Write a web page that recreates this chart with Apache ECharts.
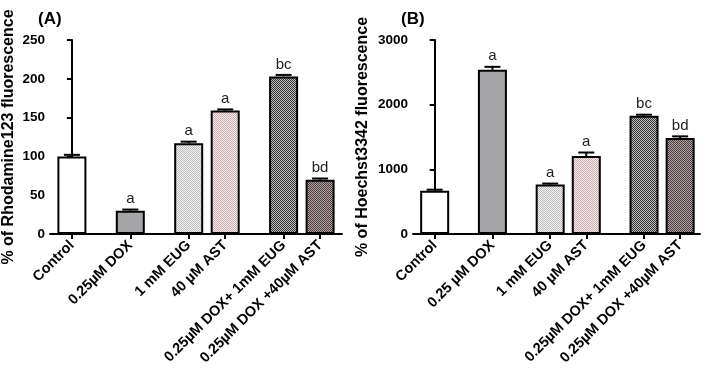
<!DOCTYPE html>
<html>
<head>
<meta charset="utf-8">
<script src="https://cdn.jsdelivr.net/npm/echarts@6/dist/echarts.min.js"></script>
<style>
	html, body { margin: 0; padding: 0; background: #fff; }
	#chart { width: 709px; height: 369px; }
</style>
</head>
<body>
<div id="chart"></div>
<script>
	// treatments, in plotting order
	var labelsA = ['Control', '0.25µM DOX', '1 mM EUG', '40 µM AST', '0.25µM DOX+ 1mM EUG', '0.25µM DOX +40µM AST'];
	var labelsB = ['Control', '0.25 µM DOX', '1 mM EUG', '40 µM AST', '0.25µM DOX+ 1mM EUG', '0.25µM DOX +40µM AST'];
	// how many bars sit side by side in each group
	var groupSizes = [1, 1, 2, 2];

	// (A) Rhodamine123
	var rhodamine = [100, 30, 117, 159, 203, 70];
	var rhodamineErr = [2, 1.5, 2, 1.5, 2, 1.5];
	var rhodamineSig = ['', 'a', 'a', 'a', 'bc', 'bd'];

	// (B) Hoechst3342
	var hoechst = [670, 2540, 765, 1205, 1830, 1485];
	var hoechstErr = [15, 45, 15, 55, 15, 25];
	var hoechstSig = ['', 'a', 'a', 'a', 'bc', 'bd'];

	var FONT = '"Liberation Sans", Arial, sans-serif';

	// bar x positions: 1 unit between neighbours, a wider gap between groups
	var positions = [];
	(function() {
		var x = 0;
		groupSizes.forEach(function(n, g) {
			if(g > 0) x += 0.6;
			for(var i = 0; i < n; i++) {
				positions.push(x);
				x += 1;
			}
		});
	})();

	function nearest(v) {
		var best = 0;
		for(var i = 1; i < positions.length; i++) {
			if(Math.abs(positions[i] - v) < Math.abs(positions[best] - v)) best = i;
		}
		return best;
	}

	// small checker textures like the print fills
	function checker(a, b) {
		var c = document.createElement('canvas');
		c.width = 2;
		c.height = 2;
		var ctx = c.getContext('2d');
		ctx.fillStyle = a;
		ctx.fillRect(0, 0, 2, 2);
		ctx.fillStyle = b;
		ctx.fillRect(0, 0, 1, 1);
		ctx.fillRect(1, 1, 1, 1);
		return { image: c, repeat: 'repeat' };
	}
	var fills = [
		'#ffffff',
		'#a4a4a6',
		checker('#f2f2f2', '#bcbcbc'),
		checker('#f6eaea', '#ccb0b0'),
		checker('#bcbcbc', '#383838'),
		checker('#b0a2a2', '#4a4040')
	];

	function xAxisFor(gridIndex, labels, max) {
		return {
			type: 'value',
			gridIndex: gridIndex,
			min: -0.6,
			max: max,
			splitLine: { show: false },
			axisLine: { onZero: false, lineStyle: { color: '#000', width: 2 } },
			axisTick: {
				customValues: positions,
				length: 5,
				lineStyle: { color: '#000', width: 2 }
			},
			axisLabel: {
				customValues: positions,
				rotate: 45,
				margin: 9,
				color: '#000',
				fontFamily: FONT,
				fontWeight: 'bold',
				fontSize: 14.5,
				formatter: function(v) {
					return labels[nearest(v)];
				}
			}
		};
	}

	function yAxisFor(gridIndex, name, max, interval, gap) {
		return {
			type: 'value',
			gridIndex: gridIndex,
			min: 0,
			max: max,
			interval: interval,
			name: name,
			nameLocation: 'middle',
			nameGap: gap,
			nameTextStyle: { color: '#000', fontFamily: FONT, fontWeight: 'bold', fontSize: 16 },
			splitLine: { show: false },
			axisLine: { show: true, lineStyle: { color: '#000', width: 2 } },
			axisTick: { show: true, length: 5, lineStyle: { color: '#000', width: 2 } },
			axisLabel: {
				color: '#000',
				fontFamily: FONT,
				fontWeight: 'bold',
				fontSize: 13.5,
				margin: 5,
				formatter: function(v) { return String(v); }
			}
		};
	}

	function barSeries(axisIndex, values) {
		return {
			type: 'bar',
			xAxisIndex: axisIndex,
			yAxisIndex: axisIndex,
			barWidth: 29,
			data: values.map(function(v, i) {
				return {
					value: [positions[i], v],
					itemStyle: { color: fills[i] }
				};
			}),
			itemStyle: { borderColor: '#000', borderWidth: 2 },
			silent: true
		};
	}

	function errorSeries(axisIndex, values, errs, sig) {
		return {
			type: 'custom',
			xAxisIndex: axisIndex,
			yAxisIndex: axisIndex,
			data: values.map(function(v, i) {
				return [positions[i], v, errs[i], i];
			}),
			renderItem: function(params, api) {
				var x = api.value(0);
				var mean = api.value(1);
				var err = api.value(2);
				var i = api.value(3);
				var base = api.coord([x, mean]);
				var top = api.coord([x, mean + err]);
				var half = 8;
				var style = { stroke: '#000', lineWidth: 2 };
				var children = [
					{ type: 'line', shape: { x1: base[0], y1: base[1], x2: top[0], y2: top[1] }, style: style },
					{ type: 'line', shape: { x1: top[0] - half, y1: top[1], x2: top[0] + half, y2: top[1] }, style: style }
				];
				if(sig[i]) {
					children.push({
						type: 'text',
						style: {
							text: sig[i],
							x: top[0],
							y: top[1] - 3,
							textAlign: 'center',
							textVerticalAlign: 'bottom',
							fill: '#222',
							font: '15px ' + FONT
						}
					});
				}
				return { type: 'group', children: children };
			},
			z: 5,
			silent: true
		};
	}

	var chart = echarts.init(document.getElementById('chart'));
	chart.setOption({
		animation: false,
		title: [{
			text: '(A)',
			left: 33,
			top: 6,
			textStyle: { color: '#000', fontFamily: FONT, fontWeight: 'bold', fontSize: 17 }
		}, {
			text: '(B)',
			left: 396,
			top: 6,
			textStyle: { color: '#000', fontFamily: FONT, fontWeight: 'bold', fontSize: 17 }
		}],
		grid: [
			{ left: 50, top: 40, width: 292, height: 194 },
			{ left: 413, top: 40, width: 287, height: 194 }
		],
		xAxis: [
			xAxisFor(0, labelsA, 7.4),
			xAxisFor(1, labelsB, 7.35)
		],
		yAxis: [
			yAxisFor(0, '% of Rhodamine123 fluorescence', 250, 50, 33),
			yAxisFor(1, '% of Hoechst3342 fluorescence', 3000, 1000, 42)
		],
		series: [
			barSeries(0, rhodamine),
			errorSeries(0, rhodamine, rhodamineErr, rhodamineSig),
			barSeries(1, hoechst),
			errorSeries(1, hoechst, hoechstErr, hoechstSig)
		]
	});
</script>
</body>
</html>
